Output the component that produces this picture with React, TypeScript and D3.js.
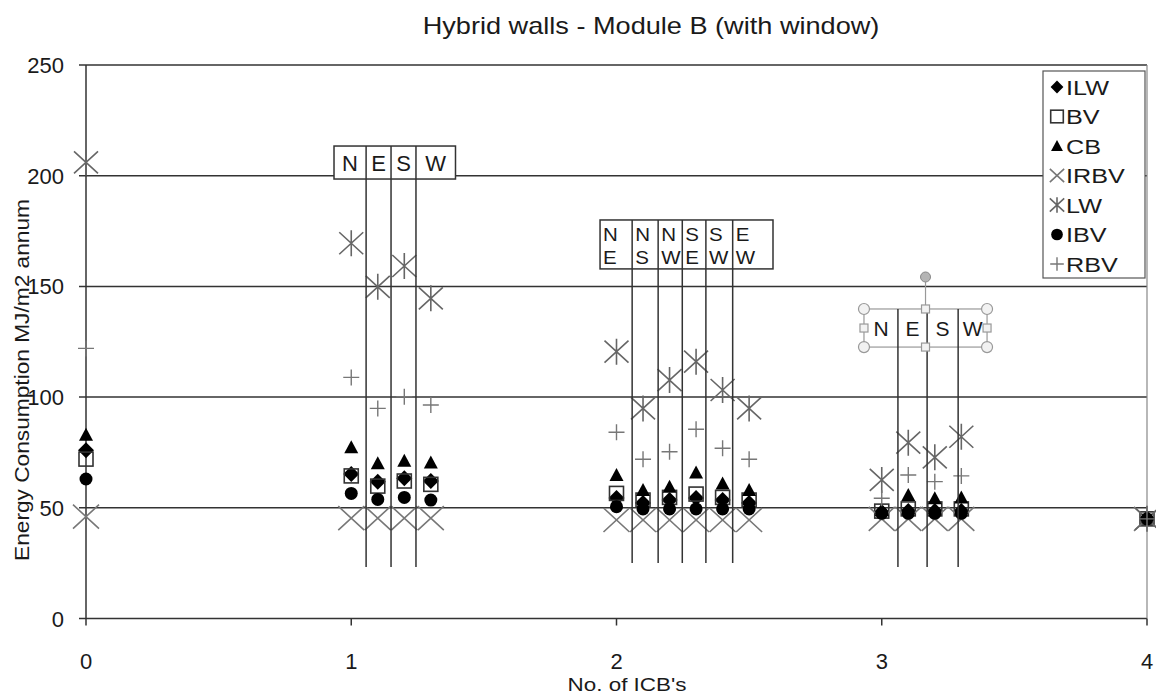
import React from "react";
import * as d3 from "d3";

// ---- Data ----
const xPositions = [0, 1, 1.1, 1.2, 1.3, 2, 2.1, 2.2, 2.3, 2.4, 2.5, 3, 3.1, 3.2, 3.3, 4];
const ILW = [76, 65.3, 61.8, 63.3, 62.1, 54.4, 52.2, 53.5, 54.4, 53.5, 52.2, 48, 48.5, 48.5, 48.5, 45];
const BV = [72, 64.4, 59.8, 62.1, 60.6, 56.5, 53.5, 54.7, 56.2, 54.7, 53.5, 48.5, 49.5, 49.5, 49.5, 45];
const CB = [83, 77.3, 70.1, 71.3, 70.5, 64.8, 58, 59.5, 66, 61, 58, 49, 55.8, 54.3, 54.7, 45];
const IRBV = [46, 45.3, 45.3, 45.3, 45.3, 44.5, 44.5, 44.5, 44.5, 44.5, 44.5, 45, 45, 45, 45, 45];
const LW = [206, 169.5, 149.8, 159.2, 144.6, 120.5, 94.9, 107.7, 116, 103.2, 94.9, 62.6, 79.4, 72.8, 82.1, 45];
const IBV = [63, 56.5, 53.8, 54.7, 53.5, 50.5, 49.5, 49.5, 49.5, 49.5, 49.5, 47.5, 47.5, 47.5, 47.5, 45];
const RBV = [122, 108.9, 94.9, 100.2, 96.4, 84.1, 71.9, 75.3, 85.5, 76.9, 71.9, 54.3, 64.8, 61.8, 64.4, 45];

const seriesNames = ["ILW", "BV", "CB", "IRBV", "LW", "IBV", "RBV"];
const seriesValues = [ILW, BV, CB, IRBV, LW, IBV, RBV];

const yTicks = [0, 50, 100, 150, 200, 250];
const xTicks = [0, 1, 2, 3, 4];

// annotation groups (data coordinates)
const g1Labels = ["N", "E", "S", "W"];
const g1Edges = [0.935, 1.056, 1.15, 1.244, 1.393];
const g1Box = [213.4, 198.5];
const g2Labels = [["N", "E"], ["N", "S"], ["N", "W"], ["S", "E"], ["S", "W"], ["E", "W"]];
const g2Edges = [1.938, 2.059, 2.157, 2.248, 2.337, 2.438, 2.59];
const g2Box = [180, 157.9];
const g3Labels = ["N", "E", "S", "W"];
const g3Edges = [2.933, 3.061, 3.171, 3.288, 3.397];
const g3Box = [139.8, 122.6];
const dropBottom = 23.3;

const W = 1156, H = 694;
const x = d3.scaleLinear().domain([0, 4]).range([86, 1147]);
const y = d3.scaleLinear().domain([0, 250]).range([618.5, 65]);

const FONT = "'Liberation Sans', Arial, sans-serif";
const TXT = "#1a1a1a";
const GRID = "#333";

const legendScale: Record<string, number> = { ILW: 0.8, BV: 0.9, CB: 0.85, IRBV: 0.55, LW: 0.6, IBV: 0.9, RBV: 0.85 };

function Marker({ name, cx, cy, k = 1 }: { name: string; cx: number; cy: number; k?: number }) {
  const t = `translate(${cx},${cy}) scale(${k})`;
  switch (name) {
    case "ILW":
      return <path transform={t} d="M0,-8L8,0L0,8L-8,0Z" fill="#000" />;
    case "BV":
      return <rect transform={t} x={-7} y={-7} width={14} height={14} fill="none" stroke="#333" strokeWidth={1.6 / k} />;
    case "CB":
      return <path transform={t} d="M0,-7L7,6L-7,6Z" fill="#000" />;
    case "IRBV":
      return <path transform={t} d="M-13,-12L13,12M-13,12L13,-12" stroke="#777" strokeWidth={1.6 / k} fill="none" />;
    case "LW":
      return <path transform={t} d="M-12,-11L12,11M-12,11L12,-11M0,-13L0,13" stroke="#666" strokeWidth={1.6 / k} fill="none" />;
    case "IBV":
      return <circle transform={t} r={6.5} fill="#000" />;
    case "RBV":
      return <path transform={t} d="M-8,0L8,0M0,-8L0,8" stroke="#777" strokeWidth={1.4 / k} fill="none" />;
  }
  return null;
}

function SText({ x0, y0, size, anchor = "start", sx = 1, children }: any) {
  return (
    <text
      transform={`translate(${x0},${y0}) scale(${sx},1)`}
      fontFamily={FONT}
      fontSize={size}
      fill={TXT}
      textAnchor={anchor}
    >
      {children}
    </text>
  );
}

function Group1() {
  const top = y(g1Box[0]), bot = y(g1Box[1]);
  const L = x(g1Edges[0]), R = x(g1Edges[g1Edges.length - 1]);
  return (
    <g>
      <rect x={L} y={top} width={R - L} height={bot - top} fill="#fff" stroke={GRID} strokeWidth={1.5} />
      {g1Edges.slice(1, -1).map((e, i) => (
        <line key={i} x1={x(e)} x2={x(e)} y1={top} y2={y(dropBottom)} stroke={GRID} strokeWidth={1.5} />
      ))}
      {g1Labels.map((l, i) => (
        <SText key={i} x0={(x(g1Edges[i]) + x(g1Edges[i + 1])) / 2} y0={top + 24.5} size={22} anchor="middle">{l}</SText>
      ))}
    </g>
  );
}

function Group2() {
  const top = y(g2Box[0]), bot = y(g2Box[1]);
  const L = x(g2Edges[0]), R = x(g2Edges[g2Edges.length - 1]);
  return (
    <g>
      <rect x={L} y={top} width={R - L} height={bot - top} fill="#fff" stroke={GRID} strokeWidth={1.5} />
      {g2Edges.slice(1, -1).map((e, i) => (
        <line key={i} x1={x(e)} x2={x(e)} y1={top} y2={y(dropBottom) - 4} stroke={GRID} strokeWidth={1.5} />
      ))}
      {g2Labels.map((l, i) => {
        const cx = x(g2Edges[i]) + 3;
        return (
          <g key={i}>
            <SText x0={cx} y0={top + 21} size={19} sx={1.08}>{l[0]}</SText>
            <SText x0={cx} y0={top + 44} size={19} sx={1.08}>{l[1]}</SText>
          </g>
        );
      })}
    </g>
  );
}

function Group3() {
  const top = y(g3Box[0]), bot = y(g3Box[1]);
  const L = x(g3Edges[0]), R = x(g3Edges[g3Edges.length - 1]);
  const mx = (L + R) / 2, my = (top + bot) / 2;
  const handleC = [[L, top], [R, top], [L, bot], [R, bot]];
  const handleS = [[mx, top], [mx, bot], [L, my], [R, my]];
  return (
    <g>
      <rect x={L} y={top} width={R - L} height={bot - top} fill="#fff" stroke="#999" strokeWidth={1.2} />
      {g3Edges.slice(1, -1).map((e, i) => (
        <line key={i} x1={x(e)} x2={x(e)} y1={top} y2={y(dropBottom)} stroke={GRID} strokeWidth={1.5} />
      ))}
      {g3Labels.map((l, i) => (
        <SText key={i} x0={(x(g3Edges[i]) + x(g3Edges[i + 1])) / 2} y0={my + 8} size={21} anchor="middle">{l}</SText>
      ))}
      <line x1={mx} x2={mx} y1={top} y2={top - 32} stroke="#999" strokeWidth={1.2} />
      <circle cx={mx} cy={top - 32} r={5} fill="#b5b5b5" stroke="#888" strokeWidth={1} />
      {handleC.map((p, i) => (
        <circle key={i} cx={p[0]} cy={p[1]} r={5.5} fill="#f2f2f2" stroke="#999" strokeWidth={1.2} />
      ))}
      {handleS.map((p, i) => (
        <rect key={i} x={p[0] - 4} y={p[1] - 4} width={8} height={8} fill="#f2f2f2" stroke="#999" strokeWidth={1.2} />
      ))}
    </g>
  );
}

export default function App() {
  const legendY = d3.range(seriesNames.length).map((i) => 87 + i * 29.5);
  return (
    <svg width={W} height={H} style={{ position: "absolute", left: 0, top: 0, background: "#fff" }}>
      <rect width={W} height={H} fill="#fff" />
      {/* title */}
      <SText x0={651} y0={34} size={23} sx={1.18} anchor="middle">Hybrid walls - Module B (with window)</SText>

      {/* gridlines & y ticks */}
      {yTicks.map((t) => (
        <g key={t}>
          <line x1={79} x2={x(4)} y1={y(t)} y2={y(t)} stroke={GRID} strokeWidth={1.5} />
          <SText x0={64} y0={y(t) + 8} size={22} anchor="end">{t}</SText>
        </g>
      ))}
      {/* axes */}
      <line x1={x(0)} x2={x(0)} y1={y(250)} y2={y(0)} stroke={GRID} strokeWidth={1.5} />
      <line x1={x(4)} x2={x(4)} y1={y(250)} y2={y(0)} stroke="#888" strokeWidth={1.2} />
      {xTicks.map((t) => (
        <g key={t}>
          <line x1={x(t)} x2={x(t)} y1={y(0)} y2={y(0) + 7} stroke={GRID} strokeWidth={1.5} />
          <SText x0={x(t)} y0={669} size={22} anchor="middle">{t}</SText>
        </g>
      ))}
      <SText x0={627} y0={691} size={19} sx={1.18} anchor="middle">No. of ICB's</SText>
      <text
        transform={`translate(29,380) rotate(-90)`}
        fontFamily={FONT}
        fontSize={21}
        fill={TXT}
        textAnchor="middle"
        textLength={362}
        lengthAdjust="spacingAndGlyphs"
      >
        Energy Consumption MJ/m2 annum
      </text>

      {/* data */}
      {seriesNames.map((name, si) => (
        <g key={name}>
          {seriesValues[si].map((v, i) => (
            <Marker key={i} name={name} cx={x(xPositions[i])} cy={y(v)} />
          ))}
        </g>
      ))}

      {/* annotations */}
      <Group1 />
      <Group2 />
      <Group3 />

      {/* legend */}
      <rect x={1043} y={71} width={102} height={207} fill="#fff" stroke="#555" strokeWidth={1.2} />
      {seriesNames.map((name, i) => (
        <g key={name}>
          <Marker name={name} cx={1057} cy={legendY[i]} k={legendScale[name]} />
          <SText x0={1066} y0={legendY[i] + 7.5} size={21} sx={1.2}>{name}</SText>
        </g>
      ))}
    </svg>
  );
}
